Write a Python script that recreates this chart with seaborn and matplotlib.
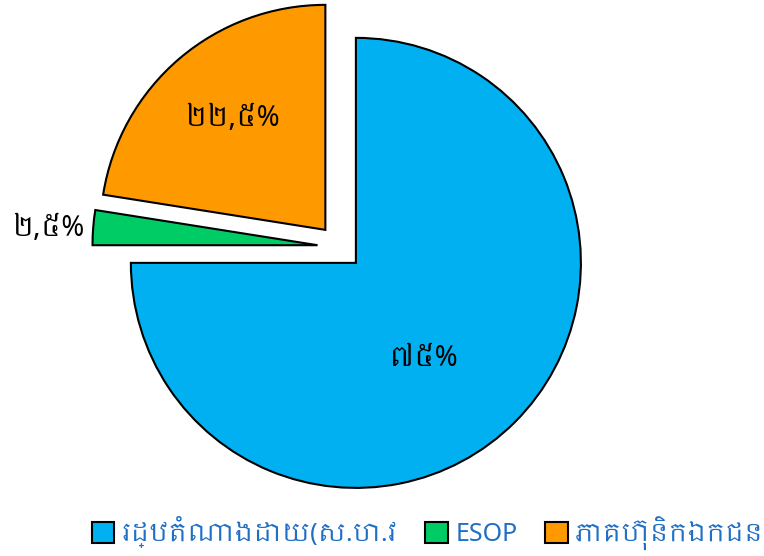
import matplotlib
matplotlib.use("Agg")
import matplotlib.pyplot as plt
import seaborn as sns
from matplotlib import font_manager

sns.set_theme(style="white")

# look for any font that can draw Khmer
khmer = [f.name for f in font_manager.fontManager.ttflist if "khmer" in f.name.lower()]
plt.rcParams['font.family'] = khmer[:1] + ['Noto Sans', 'DejaVu Sans']

categories = ["រដ្ឋតំណាងដោយ(ស.ហ.វ", "ESOP", "ភាគហ៊ុនិកឯកជន"]
shares = [75.0, 2.5, 22.5]
pct_labels = ["៧៥%", "២,៥%", "២២,៥%"]
colors = ["#00B0F0", "#00CC66", "#FF9900"]

fig = plt.figure(figsize=(7.64, 5.56), dpi=100)
ax = fig.add_axes([0.1063, 0.0904, 0.6774, 0.9308])

wedges, _ = ax.pie(shares, colors=colors, startangle=90, counterclock=False,
                   explode=[0.1, 0.1, 0.1], radius=1.0,
                   wedgeprops=dict(edgecolor="black", linewidth=1.5))
ax.set_xlim(-1.15, 1.15)
ax.set_ylim(-1.15, 1.15)
ax.set_aspect("equal")

# label spots, placed by eye
spots = [(0.37, -0.50), (-1.30, 0.08), (-0.48, 0.57)]
for (x, y), txt in zip(spots, pct_labels):
    ax.text(x, y, txt, ha="center", va="center", fontsize=20, color="black")

fig.legend(wedges, categories, loc="lower center", bbox_to_anchor=(0.56, -0.03),
           ncol=3, frameon=False, handlelength=0.9, handleheight=0.9,
           handletextpad=0.3, columnspacing=1.1, labelcolor="#1F6FC5",
           prop=dict(size=18, weight="bold"))
for h in fig.legends[0].legend_handles:
    h.set_edgecolor("black")
    h.set_linewidth(1.5)

fig.savefig("out.png", dpi=100)
